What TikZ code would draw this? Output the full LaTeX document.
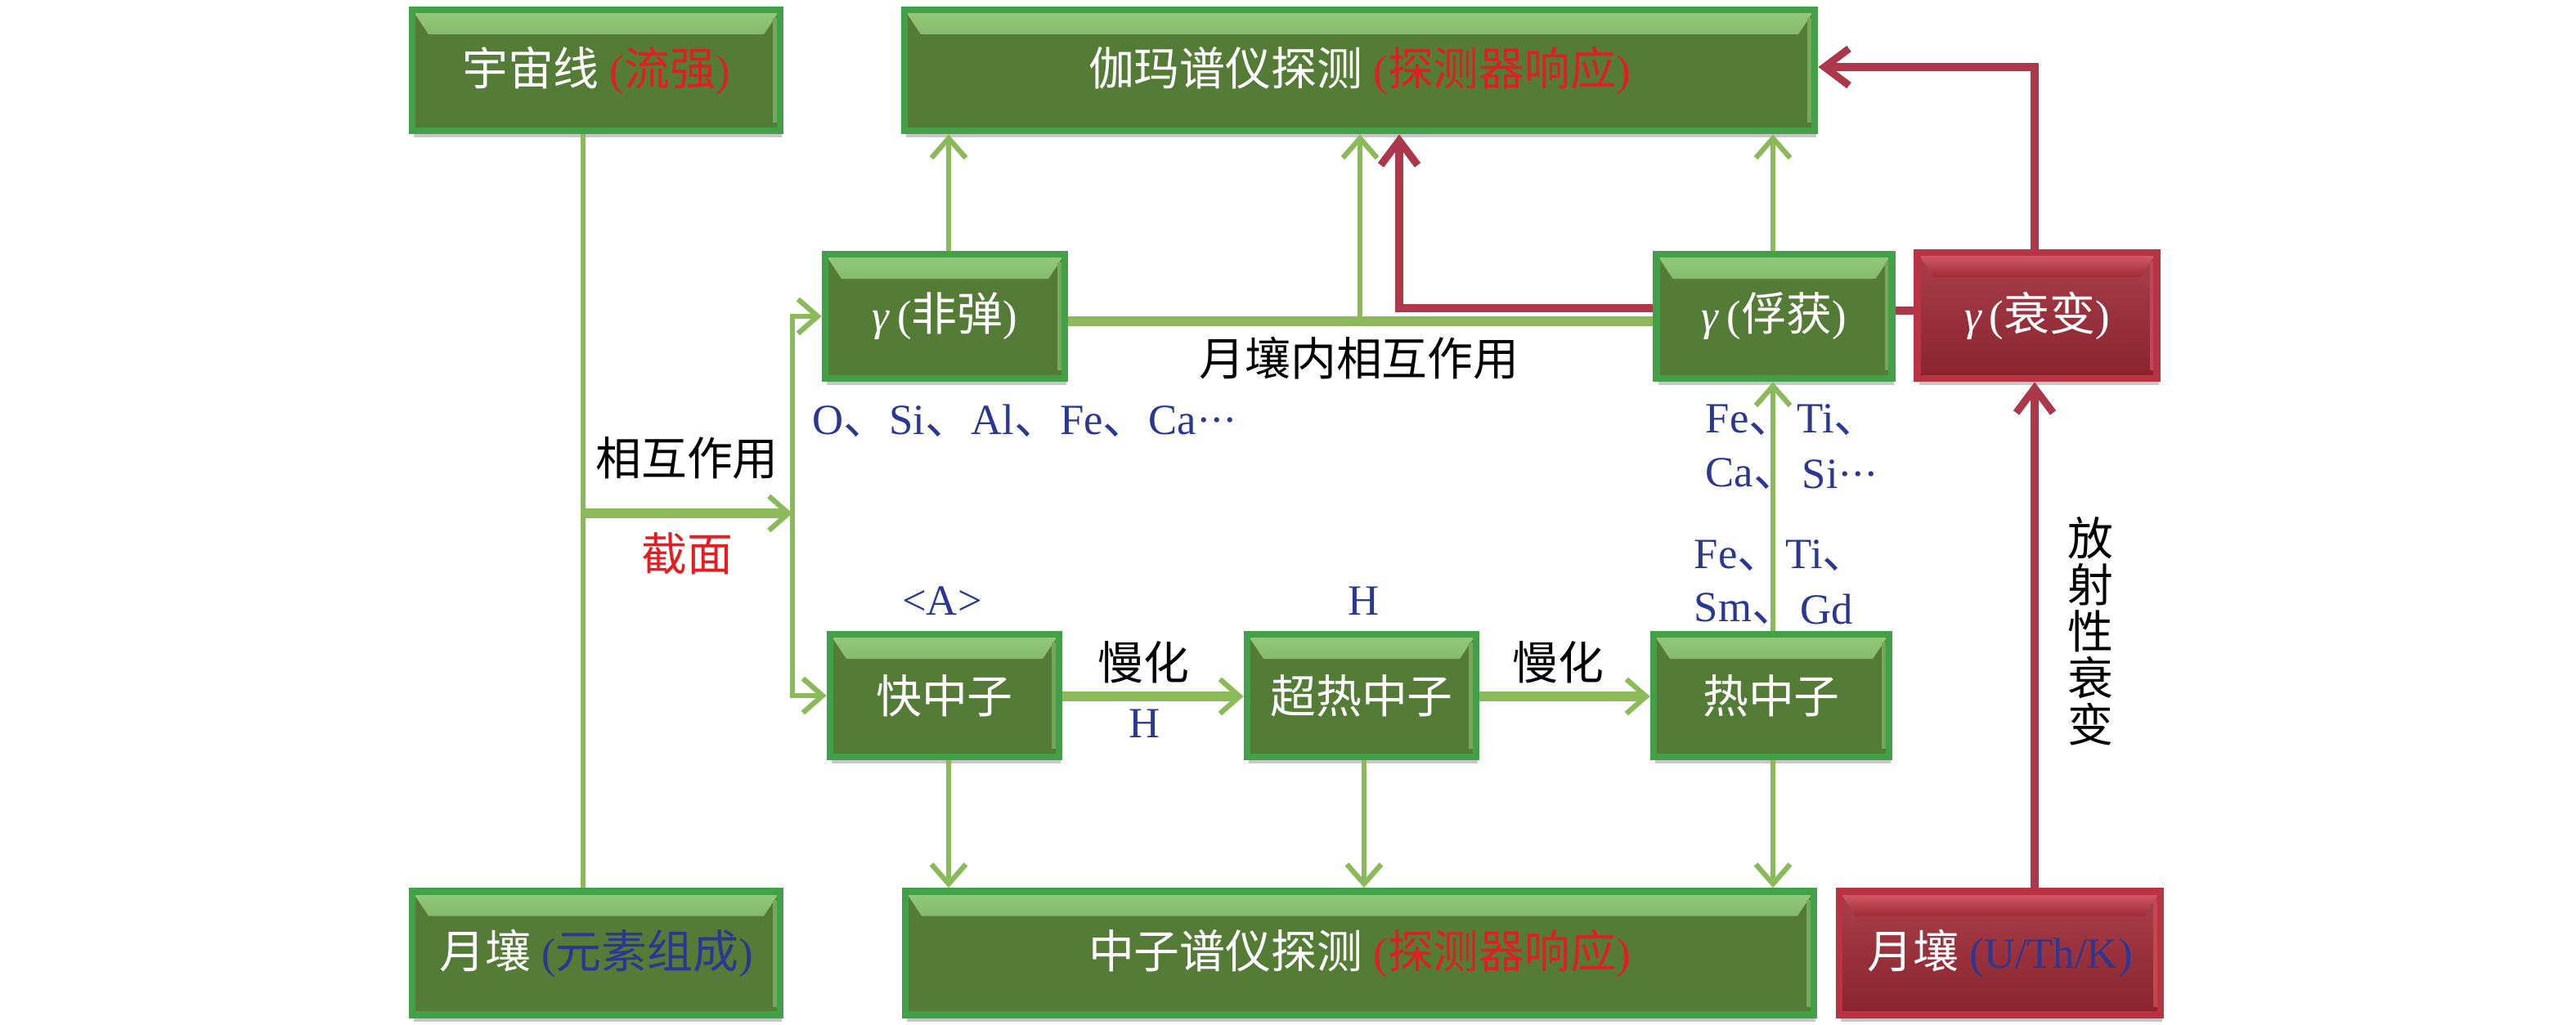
\documentclass[tikz,border=0pt]{standalone}
\usepackage{fontspec}
\setmainfont{Liberation Serif}
\newfontfamily\cjk[Scale=1.06]{Noto Sans CJK SC}
\usetikzlibrary{arrows.meta,shadows}
\definecolor{gfill}{RGB}{84,124,54}
\definecolor{gedge}{RGB}{66,160,72}
\definecolor{glight}{RGB}{146,202,122}
\definecolor{rfill}{RGB}{160,42,54}
\definecolor{redge}{RGB}{184,52,68}
\definecolor{rlight}{RGB}{214,96,108}
\definecolor{gline}{RGB}{140,185,90}
\definecolor{rline}{RGB}{172,56,76}
\definecolor{tblue}{RGB}{43,56,145}
\definecolor{tred}{RGB}{226,30,34}
\newcommand\zh[1]{{\cjk #1}}
\newcommand\fsz{\fontsize{15}{16.2}\selectfont}
\newcommand\dts{·\kern-0.03em·\kern-0.03em·}
\begin{document}
\begin{tikzpicture}[
  bx/.style={rectangle, inner sep=0pt, text=white, font=\fsz, line width=2.5pt,
    drop shadow={shadow xshift=0.02cm, shadow yshift=-0.08cm, opacity=0.4, fill=black!55}},
  gbox/.style={bx, fill=gfill, draw=gedge,
    path picture={
      \shade[top color=glight, bottom color=gfill]
        (path picture bounding box.north west) -- (path picture bounding box.north east)
        -- ([xshift=-0.2cm,yshift=-0.3cm]path picture bounding box.north east)
        -- ([xshift=0.2cm,yshift=-0.3cm]path picture bounding box.north west) -- cycle;
      \fill[glight!55!gfill] ([xshift=-0.09cm,yshift=-0.1cm]path picture bounding box.north east)
        rectangle ([yshift=0.1cm]path picture bounding box.south east);}},
  rbox/.style={bx, fill=rfill, draw=redge,
    path picture={
      \shade[top color=rfill!90!white, bottom color=rfill!85!black]
        (path picture bounding box.north west) rectangle (path picture bounding box.south east);
      \shade[top color=rlight, bottom color=rfill]
        (path picture bounding box.north west) -- (path picture bounding box.north east)
        -- ([xshift=-0.2cm,yshift=-0.3cm]path picture bounding box.north east)
        -- ([xshift=0.2cm,yshift=-0.3cm]path picture bounding box.north west) -- cycle;
      \fill[rlight!55!rfill] ([xshift=-0.09cm,yshift=-0.1cm]path picture bounding box.north east)
        rectangle ([yshift=0.1cm]path picture bounding box.south east);}},
  lab/.style={inner sep=0pt, font=\fsz},
  bl/.style={lab, text=tblue},
  gl/.style={draw=gline, line width=1.8pt},
  glt/.style={draw=gline, line width=3.4pt},
  rl/.style={draw=rline, line width=2.9pt},
  ga/.style={-{Straight Barb[length=0.24cm,width=0.42cm,line width=1.8pt]}},
  ra/.style={-{Straight Barb[length=0.3cm,width=0.45cm,line width=2.6pt]}}
]
\useasboundingbox (0,0) rectangle (31.5,-12.53);

% boxes
\node[gbox, minimum width=4.50cm, minimum height=1.48cm] (cosmic) at (7.29,-0.86)
  {\zh{宇宙线} \textcolor{tred}{(\zh{流强})}};
\node[gbox, minimum width=11.13cm, minimum height=1.48cm] (gdet) at (16.625,-0.86)
  {\zh{伽玛谱仪探测} \textcolor{tred}{(\zh{探测器响应})}};
\node[gbox, minimum width=2.93cm, minimum height=1.52cm] (inel) at (11.555,-3.87)
  {\textit{γ}\,(\zh{非弹})};
\node[gbox, minimum width=2.88cm, minimum height=1.52cm] (capt) at (21.695,-3.87)
  {\textit{γ}\,(\zh{俘获})};
\node[rbox, minimum width=2.93cm, minimum height=1.54cm] (decay) at (24.91,-3.86)
  {\textit{γ}\,(\zh{衰变})};
\node[gbox, minimum width=2.80cm, minimum height=1.50cm] (fast) at (11.55,-8.51)
  {\zh{快中子}};
\node[gbox, minimum width=2.80cm, minimum height=1.50cm] (epi) at (16.65,-8.51)
  {\zh{超热中子}};
\node[gbox, minimum width=2.88cm, minimum height=1.50cm] (therm) at (21.66,-8.51)
  {\zh{热中子}};
\node[gbox, minimum width=4.50cm, minimum height=1.51cm] (soil) at (7.29,-11.66)
  {\zh{月壤} \textcolor{tblue}{(\zh{元素组成})}};
\node[gbox, minimum width=11.11cm, minimum height=1.51cm] (ndet) at (16.625,-11.66)
  {\zh{中子谱仪探测} \textcolor{tred}{(\zh{探测器响应})}};
\node[rbox, minimum width=3.93cm, minimum height=1.51cm] (soilr) at (24.455,-11.66)
  {\zh{月壤} \textcolor{tblue}{(U/Th/K)}};

% labels
\node[lab] (l1) at (8.40,-5.60) {\zh{相互作用}};
\node[lab, text=tred] (l2) at (8.40,-6.77) {\zh{截面}};
\node[bl, anchor=west] (l3) at (9.93,-5.15) {O\zh{、}Si\zh{、}Al\zh{、}Fe\zh{、}Ca\dts};
\node[lab] (l4) at (16.62,-4.38) {\zh{月壤内相互作用}};
\node[bl] (l5) at (11.52,-7.35) {<A>};
\node[bl] (l6) at (16.68,-7.35) {H};
\node[lab] (l7) at (13.98,-8.10) {\zh{慢化}};
\node[bl] (l8) at (14.00,-8.85) {H};
\node[lab] (l9) at (19.05,-8.10) {\zh{慢化}};
\node[bl, anchor=west] (f1) at (20.85,-5.14) {Fe\zh{、}};
\node[bl, anchor=west] (f2) at (21.97,-5.14) {Ti\zh{、}};
\node[bl, anchor=west] (f3) at (20.85,-5.80) {Ca\zh{、}};
\node[bl, anchor=west] (f4) at (22.03,-5.80) {Si\dts};
\node[bl, anchor=west] (f5) at (20.71,-6.80) {Fe\zh{、}};
\node[bl, anchor=west] (f6) at (21.83,-6.80) {Ti\zh{、}};
\node[bl, anchor=west] (f7) at (20.71,-7.45) {Sm\zh{、}};
\node[bl, anchor=west] (f8) at (22.01,-7.45) {Gd};
\node[lab, align=center] (l10) at (25.56,-7.72) {\zh{放}\\\zh{射}\\\zh{性}\\\zh{衰}\\\zh{变}};

% helper coordinates
\coordinate (xm) at (7.13,0);
\coordinate (bp) at (7.13,-6.28);
\coordinate (fk) at (9.69,-6.28);
\coordinate (xa) at (11.60,0);
\coordinate (xb) at (16.63,0);
\coordinate (xb2) at (16.68,0);
\coordinate (xr) at (17.11,0);
\coordinate (xc) at (21.68,0);
\coordinate (xe) at (24.88,0);
\coordinate (yh) at (0,-3.93);
\coordinate (yr) at (0,-3.77);
\coordinate (yd) at (0,-3.80);
\coordinate (yt) at (0,-0.82);
\coordinate (ym) at (0,-8.52);

% connectors
\draw[gl] (cosmic.south -| xm) -- (soil.north -| xm);
\draw[glt, ga] (bp) -- (fk);
\draw[gl, ga] (fk) |- (inel.west);
\draw[gl, ga] (fk) |- (fast.west);
\draw[gl, ga] (inel.north -| xa) -- (gdet.south -| xa);
\draw[glt] (inel.east |- yh) -- (capt.west |- yh);
\draw[gl, ga] (xb |- yh) -- (gdet.south -| xb);
\draw[rl, ra] (capt.west |- yr) -| (gdet.south -| xr);
\draw[rl] (decay.west |- yd) -- (capt.east |- yd);
\draw[rl, ra] (decay.north -| xe) |- (gdet.east |- yt);
\draw[rl, ra] (soilr.north -| xe) -- (decay.south -| xe);
\draw[gl, ga] (capt.north -| xc) -- (gdet.south -| xc);
\draw[gl, ga] (therm.north -| xc) -- (capt.south -| xc);
\draw[glt, ga] (fast.east |- ym) -- (epi.west |- ym);
\draw[glt, ga] (epi.east |- ym) -- (therm.west |- ym);
\draw[gl, ga] (fast.south -| xa) -- (ndet.north -| xa);
\draw[gl, ga] (epi.south -| xb2) -- (ndet.north -| xb2);
\draw[gl, ga] (therm.south -| xc) -- (ndet.north -| xc);
\end{tikzpicture}
\end{document}
